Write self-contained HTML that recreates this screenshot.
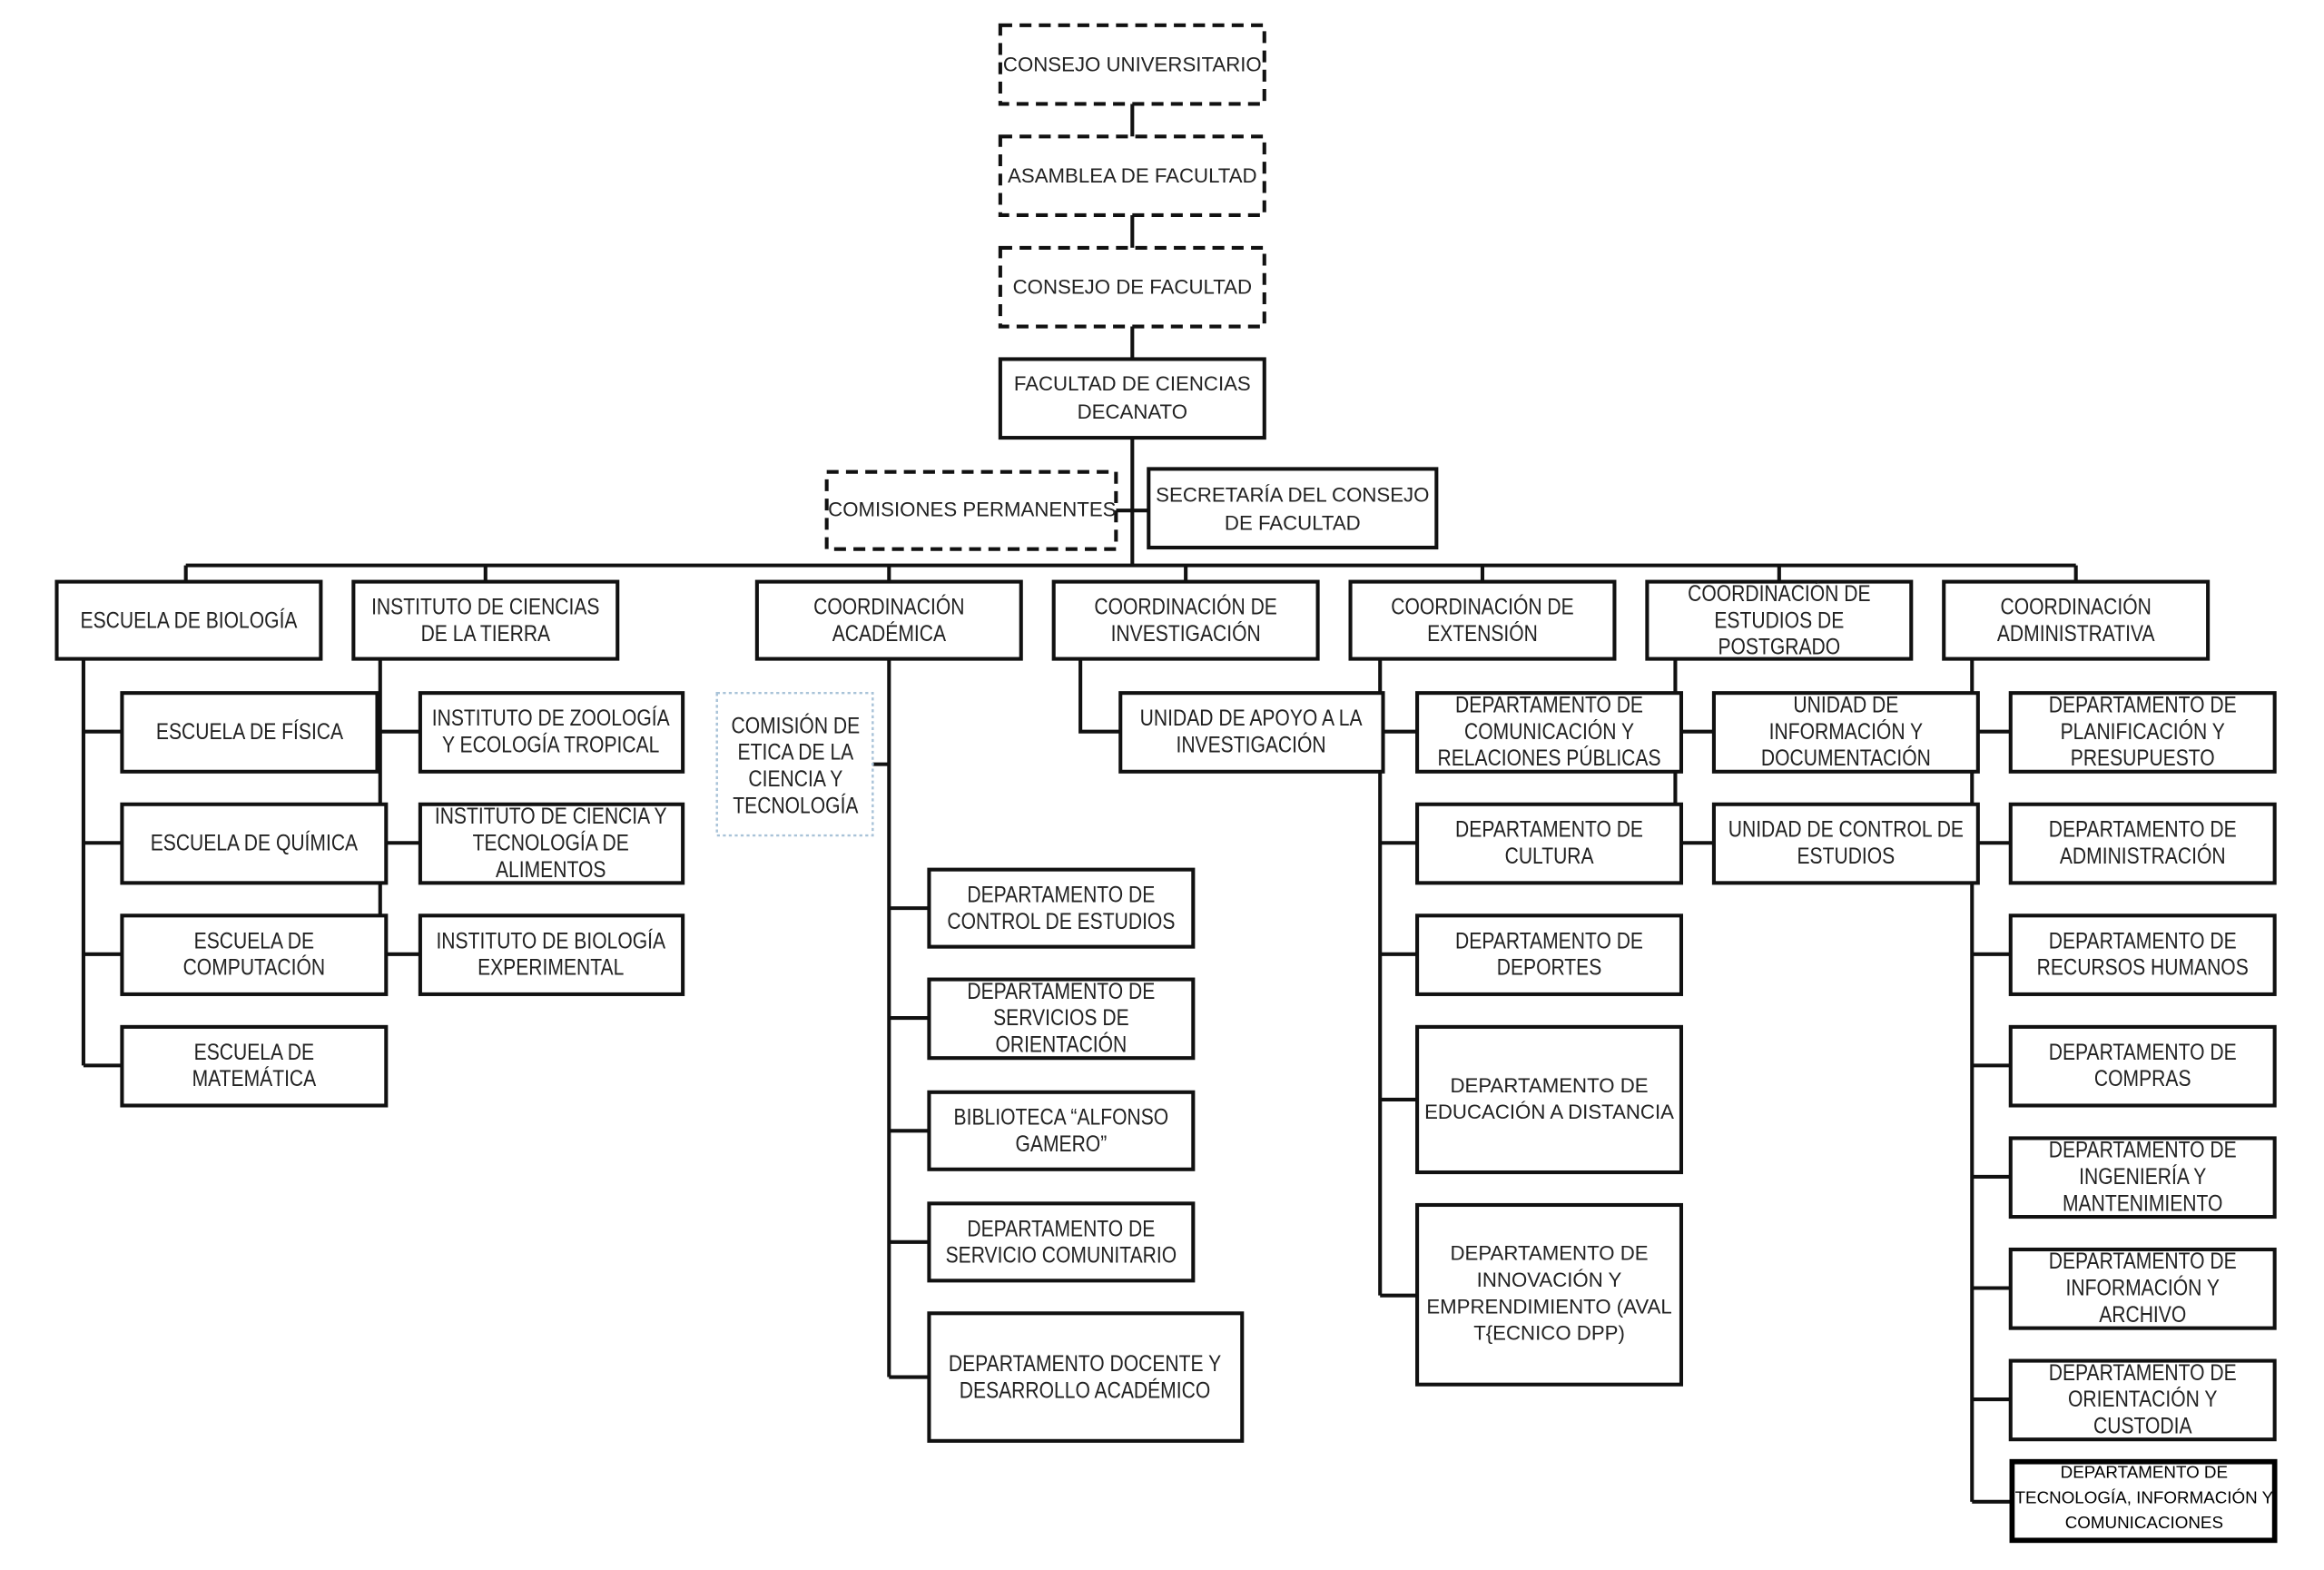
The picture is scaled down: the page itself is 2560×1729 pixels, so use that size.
<!DOCTYPE html>
<html><head><meta charset="utf-8"><style>
html,body{margin:0;padding:0;background:#fff;}
svg{display:block;}
text{font-family:"Liberation Sans",sans-serif;font-size:15px;fill:#222;text-anchor:middle;transform-box:fill-box;transform-origin:center;transform:scaleX(0.86);}
.w{font-size:13.6px;transform:none;}
.s{font-size:11.5px;fill:#000;transform:none;}
.b{fill:#fff;stroke:#111;stroke-width:2.5;}
.d{fill:#fff;stroke:#111;stroke-width:2.5;stroke-dasharray:8 5;}
.l{stroke:#111;stroke-width:2.5;fill:none;}
</style></head><body>
<svg width="2560" height="1729" viewBox="0 0 1566 1058" xmlns="http://www.w3.org/2000/svg">
<rect width="1566" height="1058" fill="#fff"/>
<path class="l" d="M763 70V92M763 145V167M763 220V242M763 295V381M752 344H774M125 381H1399
M125 381V392M327 381V392M599 381V392M799 381V392M999 381V392M1199 381V392M1399 381V392
M56 444V718M56 493H82M56 568H82M56 643H82M56 718H82
M256 444V643M256 493H283M256 568H283M256 643H283
M599 444V928M588 515H599M599 612H626M599 686H626M599 762H626M599 837H626M599 928H626
M728 444V493H755
M930 444V873M930 493H955M930 568H955M930 643H955M930 741H955M930 873H955
M1129 444V542M1133 493H1155M1133 568H1155
M1329 444V1012M1329 493H1355M1329 568H1355M1329 643H1355M1329 718H1355M1329 793H1355M1329 868H1355M1329 943H1355M1329 1012H1355"/>
<rect class="d" x="674" y="17" width="178" height="53"/><text class="w" x="763" y="48">CONSEJO UNIVERSITARIO</text>
<rect class="d" x="674" y="92" width="178" height="53"/><text class="w" x="763" y="123">ASAMBLEA DE FACULTAD</text>
<rect class="d" x="674" y="167" width="178" height="53"/><text class="w" x="763" y="198">CONSEJO DE FACULTAD</text>
<rect class="b" x="674" y="242" width="178" height="53"/><text class="w" x="763" y="263">FACULTAD DE CIENCIAS</text><text class="w" x="763" y="282">DECANATO</text>
<rect class="d" x="557" y="318" width="195" height="52"/><text class="w" x="655" y="348">COMISIONES PERMANENTES</text>
<rect class="b" x="774" y="316" width="194" height="53"/><text class="w" x="871" y="338">SECRETARÍA DEL CONSEJO</text><text class="w" x="871" y="357">DE FACULTAD</text>
<rect class="b" x="38" y="392" width="178" height="52"/><text x="127" y="423">ESCUELA DE BIOLOGÍA</text>
<rect class="b" x="238" y="392" width="178" height="52"/><text x="327" y="414">INSTITUTO DE CIENCIAS</text><text x="327" y="432">DE LA TIERRA</text>
<rect class="b" x="510" y="392" width="178" height="52"/><text x="599" y="414">COORDINACIÓN</text><text x="599" y="432">ACADÉMICA</text>
<rect class="b" x="710" y="392" width="178" height="52"/><text x="799" y="414">COORDINACIÓN DE</text><text x="799" y="432">INVESTIGACIÓN</text>
<rect class="b" x="910" y="392" width="178" height="52"/><text x="999" y="414">COORDINACIÓN DE</text><text x="999" y="432">EXTENSIÓN</text>
<rect class="b" x="1110" y="392" width="178" height="52"/><text x="1199" y="405">COORDINACIÓN DE</text><text x="1199" y="423">ESTUDIOS DE</text><text x="1199" y="441">POSTGRADO</text>
<rect class="b" x="1310" y="392" width="178" height="52"/><text x="1399" y="414">COORDINACIÓN</text><text x="1399" y="432">ADMINISTRATIVA</text>
<rect class="b" x="82" y="467" width="172" height="53"/><text x="168" y="498">ESCUELA DE FÍSICA</text>
<rect class="b" x="82" y="542" width="178" height="53"/><text x="171" y="573">ESCUELA DE QUÍMICA</text>
<rect class="b" x="82" y="617" width="178" height="53"/><text x="171" y="639">ESCUELA DE</text><text x="171" y="657">COMPUTACIÓN</text>
<rect class="b" x="82" y="692" width="178" height="53"/><text x="171" y="714">ESCUELA DE</text><text x="171" y="732">MATEMÁTICA</text>
<rect class="b" x="283" y="467" width="177" height="53"/><text x="371" y="489">INSTITUTO DE ZOOLOGÍA</text><text x="371" y="507">Y ECOLOGÍA TROPICAL</text>
<rect class="b" x="283" y="542" width="177" height="53"/><text x="371" y="555">INSTITUTO DE CIENCIA Y</text><text x="371" y="573">TECNOLOGÍA DE</text><text x="371" y="591">ALIMENTOS</text>
<rect class="b" x="283" y="617" width="177" height="53"/><text x="371" y="639">INSTITUTO DE BIOLOGÍA</text><text x="371" y="657">EXPERIMENTAL</text>
<rect x="483" y="467" width="105" height="96" fill="#fff" stroke="#a9c3d8" stroke-width="1.5" stroke-dasharray="2 2"/>
<text x="536" y="494">COMISIÓN DE</text><text x="536" y="512">ETICA DE LA</text><text x="536" y="530">CIENCIA Y</text><text x="536" y="548">TECNOLOGÍA</text>
<rect class="b" x="626" y="586" width="178" height="52"/><text x="715" y="608">DEPARTAMENTO DE</text><text x="715" y="626">CONTROL DE ESTUDIOS</text>
<rect class="b" x="626" y="660" width="178" height="53"/><text x="715" y="673">DEPARTAMENTO DE</text><text x="715" y="691">SERVICIOS DE</text><text x="715" y="709">ORIENTACIÓN</text>
<rect class="b" x="626" y="736" width="178" height="52"/><text x="715" y="758">BIBLIOTECA “ALFONSO</text><text x="715" y="776">GAMERO”</text>
<rect class="b" x="626" y="811" width="178" height="52"/><text x="715" y="833">DEPARTAMENTO DE</text><text x="715" y="851">SERVICIO COMUNITARIO</text>
<rect class="b" x="626" y="885" width="211" height="86"/><text x="731" y="924">DEPARTAMENTO DOCENTE Y</text><text x="731" y="942">DESARROLLO ACADÉMICO</text>
<rect class="b" x="755" y="467" width="177" height="53"/><text x="843" y="489">UNIDAD DE APOYO A LA</text><text x="843" y="507">INVESTIGACIÓN</text>
<rect class="b" x="955" y="467" width="178" height="53"/><text x="1044" y="480">DEPARTAMENTO DE</text><text x="1044" y="498">COMUNICACIÓN Y</text><text x="1044" y="516">RELACIONES PÚBLICAS</text>
<rect class="b" x="955" y="542" width="178" height="53"/><text x="1044" y="564">DEPARTAMENTO DE</text><text x="1044" y="582">CULTURA</text>
<rect class="b" x="955" y="617" width="178" height="53"/><text x="1044" y="639">DEPARTAMENTO DE</text><text x="1044" y="657">DEPORTES</text>
<rect class="b" x="955" y="692" width="178" height="98"/><text class="w" x="1044" y="736">DEPARTAMENTO DE</text><text class="w" x="1044" y="754">EDUCACIÓN A DISTANCIA</text>
<rect class="b" x="955" y="812" width="178" height="121"/><text class="w" x="1044" y="849">DEPARTAMENTO DE</text><text class="w" x="1044" y="867">INNOVACIÓN Y</text><text class="w" x="1044" y="885">EMPRENDIMIENTO (AVAL</text><text class="w" x="1044" y="903">T{ECNICO DPP)</text>
<rect class="b" x="1155" y="467" width="178" height="53"/><text x="1244" y="480">UNIDAD DE</text><text x="1244" y="498">INFORMACIÓN Y</text><text x="1244" y="516">DOCUMENTACIÓN</text>
<rect class="b" x="1155" y="542" width="178" height="53"/><text x="1244" y="564">UNIDAD DE CONTROL DE</text><text x="1244" y="582">ESTUDIOS</text>
<rect class="b" x="1355" y="467" width="178" height="53"/><text x="1444" y="480">DEPARTAMENTO DE</text><text x="1444" y="498">PLANIFICACIÓN Y</text><text x="1444" y="516">PRESUPUESTO</text>
<rect class="b" x="1355" y="542" width="178" height="53"/><text x="1444" y="564">DEPARTAMENTO DE</text><text x="1444" y="582">ADMINISTRACIÓN</text>
<rect class="b" x="1355" y="617" width="178" height="53"/><text x="1444" y="639">DEPARTAMENTO DE</text><text x="1444" y="657">RECURSOS HUMANOS</text>
<rect class="b" x="1355" y="692" width="178" height="53"/><text x="1444" y="714">DEPARTAMENTO DE</text><text x="1444" y="732">COMPRAS</text>
<rect class="b" x="1355" y="767" width="178" height="53"/><text x="1444" y="780">DEPARTAMENTO DE</text><text x="1444" y="798">INGENIERÍA Y</text><text x="1444" y="816">MANTENIMIENTO</text>
<rect class="b" x="1355" y="842" width="178" height="53"/><text x="1444" y="855">DEPARTAMENTO DE</text><text x="1444" y="873">INFORMACIÓN Y</text><text x="1444" y="891">ARCHIVO</text>
<rect class="b" x="1355" y="917" width="178" height="53"/><text x="1444" y="930">DEPARTAMENTO DE</text><text x="1444" y="948">ORIENTACIÓN Y</text><text x="1444" y="966">CUSTODIA</text>
<rect x="1356" y="985" width="177" height="53" fill="#fff" stroke="#000" stroke-width="3.5"/><text class="s" x="1445" y="996">DEPARTAMENTO DE</text><text class="s" x="1445" y="1013">TECNOLOGÍA, INFORMACIÓN Y</text><text class="s" x="1445" y="1030">COMUNICACIONES</text>
</svg>
</body></html>
